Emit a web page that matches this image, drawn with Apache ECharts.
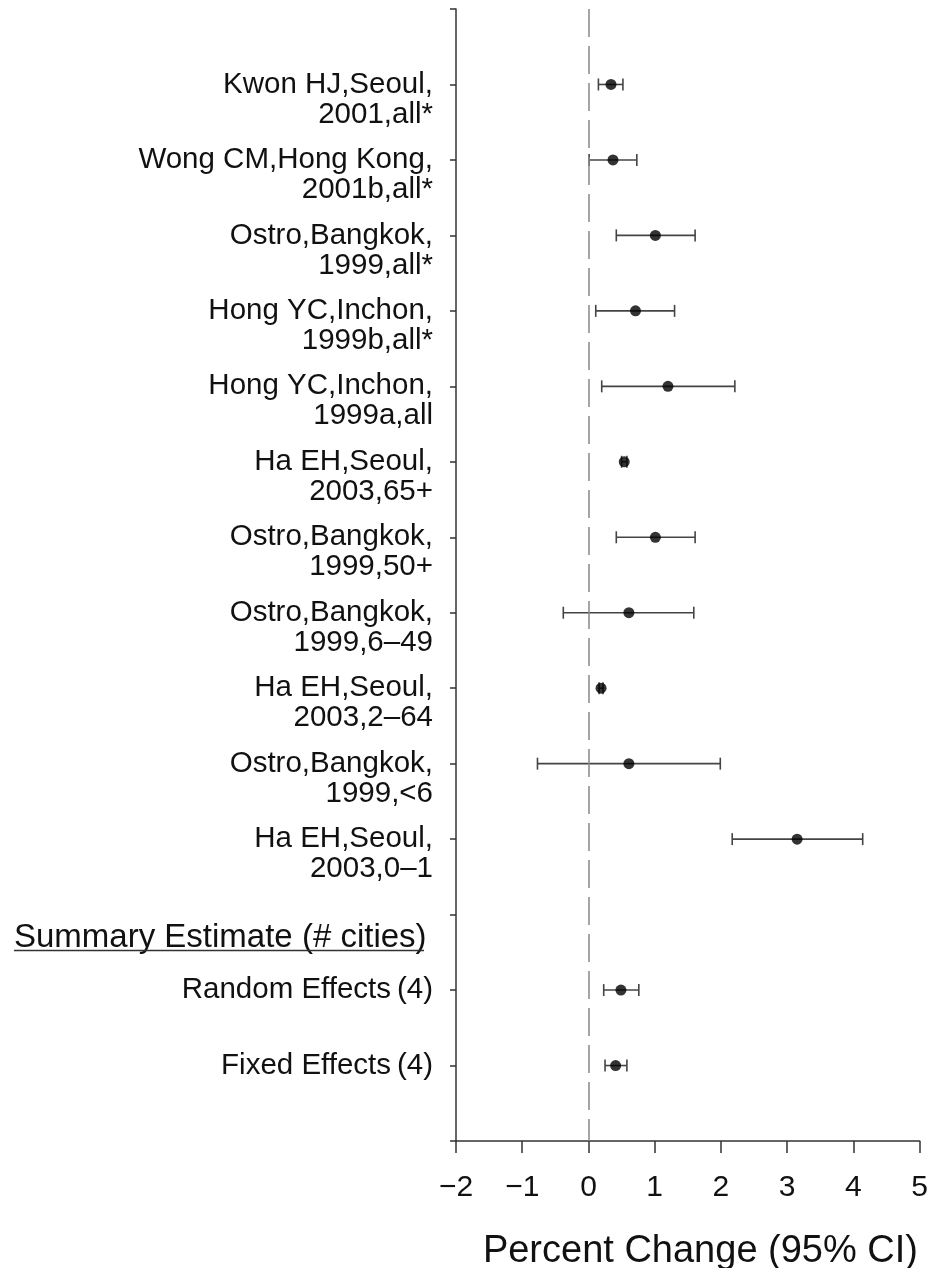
<!DOCTYPE html>
<html>
<head>
<meta charset="utf-8">
<script src="https://cdn.jsdelivr.net/npm/echarts@6/dist/echarts.min.js"></script>
<style>
  html, body { margin: 0; padding: 0; background: #fff; }
  #chart { width: 931px; height: 1268px; }
</style>
</head>
<body>
<div id="chart"></div>
<script>
// Study rows: first and second label line, row position on the y scale
const studyLine1 = ["Kwon HJ,Seoul,", "Wong CM,Hong Kong,", "Ostro,Bangkok,", "Hong YC,Inchon,",
  "Hong YC,Inchon,", "Ha EH,Seoul,", "Ostro,Bangkok,", "Ostro,Bangkok,", "Ha EH,Seoul,",
  "Ostro,Bangkok,", "Ha EH,Seoul,"];
const studyLine2 = ["2001,all*", "2001b,all*", "1999,all*", "1999b,all*", "1999a,all",
  "2003,65+", "1999,50+", "1999,6\u201349", "2003,2\u201364", "1999,<6", "2003,0\u20131"];
const studyRow = [1, 2, 3, 4, 5, 6, 7, 8, 9, 10, 11];

// Percent change estimates with 95% confidence limits
const studyEstimate = [0.34, 0.37, 1.01, 0.71, 1.20, 0.54, 1.01, 0.61, 0.19, 0.61, 3.15];
const studyLower    = [0.15, 0.01, 0.42, 0.11, 0.20, 0.50, 0.42, -0.38, 0.16, -0.77, 2.17];
const studyUpper    = [0.52, 0.73, 1.61, 1.30, 2.21, 0.58, 1.61, 1.59, 0.22, 1.99, 4.14];

// Pooled estimates
const summaryLabels   = ["Random Effects\u2009(4)", "Fixed Effects\u2009(4)"];
const summaryRow      = [13, 14];
const summaryEstimate = [0.49, 0.41];
const summaryLower    = [0.23, 0.25];
const summaryUpper    = [0.76, 0.58];

const summaryHeader = "Summary Estimate (# cities)";
const axisTitle = "Percent Change (95% CI)";
const xTicks = [-2, -1, 0, 1, 2, 3, 4, 5];

const FONT = "'Liberation Sans', Arial, Helvetica, sans-serif";
const INK = "#111";

// Label lookup by y position (leading blank line keeps the first line on the tick)
const rowLabel = {};
studyRow.forEach((r, i) => { rowLabel[r] = "\n" + studyLine1[i] + "\n" + studyLine2[i]; });
summaryRow.forEach((r, i) => { rowLabel[r] = summaryLabels[i]; });

const allRows  = studyRow.concat(summaryRow);
const allEst   = studyEstimate.concat(summaryEstimate);
const allLow   = studyLower.concat(summaryLower);
const allHigh  = studyUpper.concat(summaryUpper);

const pointData = allRows.map((r, i) => [allEst[i], r]);
const barData = allRows.map((r, i) => [allLow[i], allHigh[i], r]);

const chart = echarts.init(document.getElementById('chart'), null, { renderer: 'canvas' });

chart.setOption({
  animation: false,
  backgroundColor: '#fff',
  title: {
    text: axisTitle,
    right: 8,
    top: 1228,
    textStyle: { fontFamily: FONT, fontSize: 38, fontWeight: 'normal', color: INK }
  },
  grid: { left: 456, right: 10, top: 9, bottom: 127, containLabel: false },
  xAxis: {
    type: 'value',
    position: 'bottom',
    min: xTicks[0],
    max: xTicks[xTicks.length - 1],
    interval: 1,
    splitLine: { show: false },
    axisLine: { show: true, onZero: false, lineStyle: { color: '#333', width: 1.5 } },
    axisTick: { show: true, length: 12, lineStyle: { color: '#333', width: 1.5 } },
    axisLabel: {
      margin: 32,
      fontFamily: FONT, fontSize: 30, color: INK,
      formatter: v => (v < 0 ? '\u2212' + Math.abs(v) : String(v))
    }
  },
  yAxis: {
    type: 'value',
    position: 'left',
    inverse: true,
    min: 0,
    max: 15,
    interval: 1,
    splitLine: { show: false },
    axisLine: { show: true, onZero: false, lineStyle: { color: '#333', width: 1.5 } },
    axisTick: { show: true, length: 6, lineStyle: { color: '#333', width: 1.5 } },
    axisLabel: {
      margin: 23,
      fontFamily: FONT, fontSize: 29.5, color: INK,
      lineHeight: 30,
      align: 'right',
      formatter: v => rowLabel[v] || ''
    }
  },
  graphic: [
    {
      type: 'text',
      left: 14,
      top: 921,
      style: { text: summaryHeader, font: '33px ' + FONT, fill: INK }
    },
    {
      type: 'line',
      shape: { x1: 14, y1: 950.5, x2: 424, y2: 950.5 },
      style: { stroke: '#333', lineWidth: 1.5 }
    }
  ],
  series: [
    {
      type: 'custom',
      name: 'CI',
      data: barData,
      encode: { x: [0, 1], y: 2 },
      renderItem: function (params, api) {
        const y = api.value(2);
        const a = api.coord([api.value(0), y]);
        const b = api.coord([api.value(1), y]);
        const h = 6;
        const st = { stroke: '#444', lineWidth: 1.6 };
        return {
          type: 'group',
          children: [
            { type: 'line', shape: { x1: a[0], y1: a[1], x2: b[0], y2: b[1] }, style: st },
            { type: 'line', shape: { x1: a[0], y1: a[1] - h, x2: a[0], y2: a[1] + h }, style: st },
            { type: 'line', shape: { x1: b[0], y1: b[1] - h, x2: b[0], y2: b[1] + h }, style: st }
          ]
        };
      },
      z: 2
    },
    {
      type: 'scatter',
      name: 'Estimate',
      data: pointData,
      symbol: 'circle',
      symbolSize: 11,
      itemStyle: { color: '#000' },
      z: 3,
      markLine: {
        silent: true,
        symbol: 'none',
        label: { show: false },
        lineStyle: { type: [28, 9], color: '#888', width: 1.5 },
        data: [{ xAxis: 0 }]
      }
    }
  ]
});
</script>
</body>
</html>
